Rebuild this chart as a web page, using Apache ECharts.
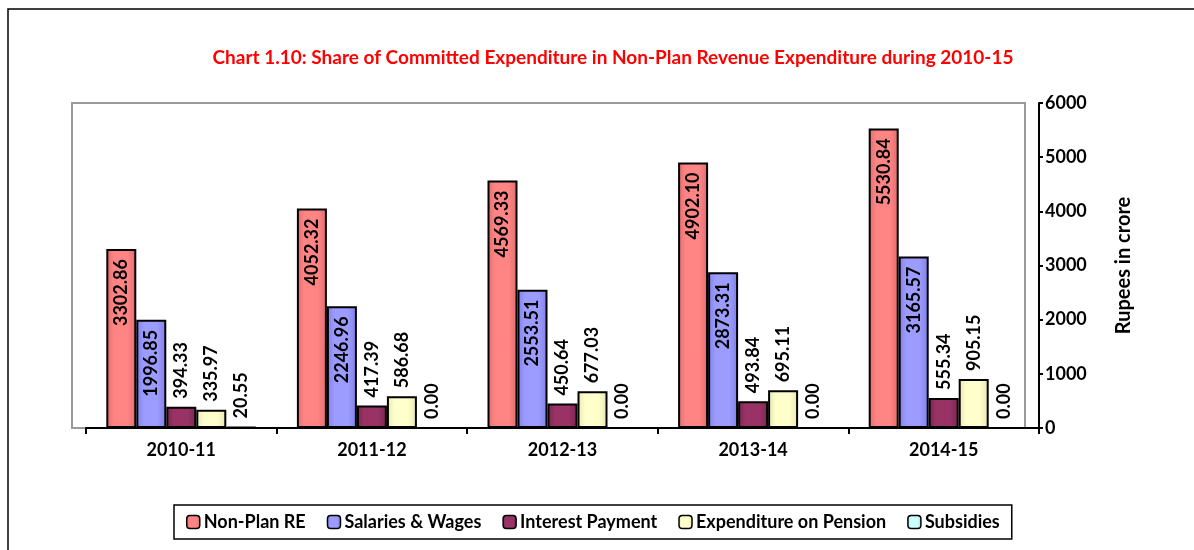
<!DOCTYPE html>
<html>
<head>
<meta charset="utf-8">
<script src="https://cdn.jsdelivr.net/npm/echarts@6/dist/echarts.min.js"></script>
<style>
  html, body { margin: 0; padding: 0; background: #fff; }
  #chart { width: 1194px; height: 550px; }
</style>
</head>
<body>
<div id="chart"></div>
<script>
const years = ["2010-11", "2011-12", "2012-13", "2013-14", "2014-15"];
const nonPlanRE = [3302.86, 4052.32, 4569.33, 4902.10, 5530.84];
const salaries = [1996.85, 2246.96, 2553.51, 2873.31, 3165.57];
const interest = [394.33, 417.39, 450.64, 493.84, 555.34];
const pension = [335.97, 586.68, 677.03, 695.11, 905.15];
const subsidies = [20.55, 0.00, 0.00, 0.00, 0.00];
const yTicks = [0, 1000, 2000, 3000, 4000, 5000, 6000];

const FONT = "Lato, 'Open Sans', sans-serif";

// dégradé léger pour imiter le relief des colonnes Excel
function shade(light, dark) {
  return new echarts.graphic.LinearGradient(0, 0, 1, 0, [
    { offset: 0, color: dark },
    { offset: 0.25, color: light },
    { offset: 0.7, color: light },
    { offset: 1, color: dark },
  ]);
}

function barSeries(name, data, light, dark, inside) {
  return {
    name,
    type: "bar",
    data,
    barWidth: 30,
    barGap: "0%",
    itemStyle: {
      color: shade(light, dark),
      borderColor: "#000",
      borderWidth: 2,
    },
    label: {
      show: true,
      rotate: 90,
      position: inside ? "insideTop" : "top",
      align: inside ? "right" : "left",
      verticalAlign: "middle",
      distance: inside ? 10 : 8,
      fontFamily: FONT,
      fontSize: 18,
      fontWeight: "bold",
      color: "#000",
      formatter: (p) => p.value.toFixed(2),
    },
  };
}

const chart = echarts.init(document.getElementById("chart"));

chart.setOption({
  animation: false,
  textStyle: { fontFamily: FONT },
  title: {
    text: "Chart 1.10: Share of Committed Expenditure in Non-Plan Revenue Expenditure during 2010-15",
    left: 608,
    textAlign: "center",
    top: 43,
    textStyle: { color: "#FF0000", fontSize: 19, fontWeight: "bold", fontFamily: FONT },
  },
  legend: {
    left: 174,
    top: 505,
    width: 1000,
    itemWidth: 13,
    itemHeight: 13,
    itemGap: 21,
    borderColor: "#000",
    borderWidth: 1.5,
    padding: [8, 12, 8, 12],
    itemStyle: { borderColor: "#000", borderWidth: 1.5 },
    textStyle: { fontSize: 18, fontWeight: "bold", color: "#000", fontFamily: FONT, padding: [0, 0, 0, -1] },
  },
  graphic: [
    {
      type: "rect",
      shape: { x: 8, y: 9, width: 1250, height: 600 },
      style: { fill: "none", stroke: "#000", lineWidth: 1.5 },
      silent: true,
    },
  ],
  grid: [
    { left: 86, right: 155, top: 103, bottom: 122 },
    { left: 72, right: 169, top: 103, bottom: 122, show: true, borderColor: "#999", borderWidth: 2, backgroundColor: "transparent" },
  ],
  xAxis: [
    {
      type: "category",
      data: years,
      axisLine: { lineStyle: { color: "#000", width: 2 } },
      axisTick: { show: true, length: 6, lineStyle: { color: "#000", width: 2 } },
      axisLabel: { fontSize: 18, fontWeight: "bold", color: "#000", margin: 13, fontFamily: FONT },
      z: 5,
    },
    { gridIndex: 1, type: "category", data: years, show: false },
  ],
  yAxis: [
    {
      type: "value",
      position: "right",
      min: yTicks[0],
      max: yTicks[yTicks.length - 1],
      interval: 1000,
      axisLine: { show: true, lineStyle: { color: "#000", width: 2 } },
      axisTick: { show: true, length: 4, lineStyle: { color: "#000", width: 2 } },
      splitLine: { show: false },
      axisLabel: { fontSize: 18, fontWeight: "bold", color: "#000", margin: 6, fontFamily: FONT, formatter: (v) => String(v) },
      name: "Rupees in crore",
      nameLocation: "middle",
      nameRotate: 90,
      nameGap: 75,
      nameTextStyle: { fontSize: 20, fontWeight: "bold", color: "#000", fontFamily: FONT },
    },
    { gridIndex: 1, type: "value", min: 0, max: 6000, show: false, splitLine: { show: false } },
  ],
  series: [
    barSeries("Non-Plan RE", nonPlanRE, "#FF8585", "#E06A6A", true),
    barSeries("Salaries & Wages", salaries, "#9C9CFF", "#7E7EE6", true),
    barSeries("Interest Payment", interest, "#993366", "#7A2550", false),
    barSeries("Expenditure on Pension", pension, "#FFFFCC", "#E6E6B0", false),
    barSeries("Subsidies", subsidies, "#CCFFFF", "#A8E0E0", false),
  ],
});
</script>
</body>
</html>
